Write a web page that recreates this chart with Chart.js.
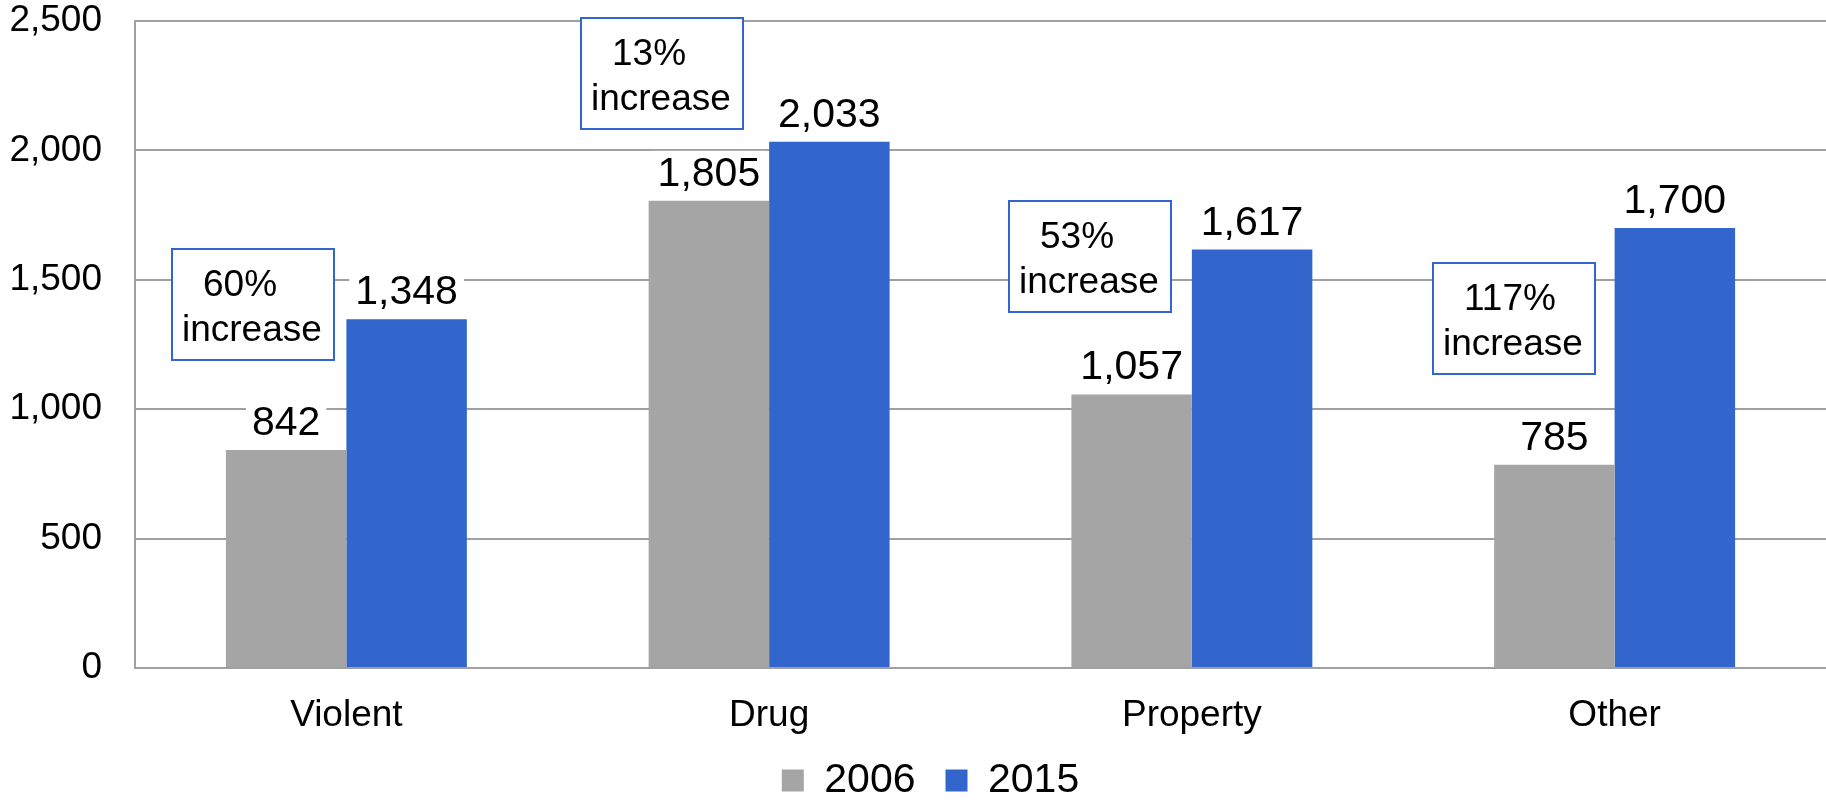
<!DOCTYPE html>
<html>
<head>
<meta charset="utf-8">
<script src="https://cdn.jsdelivr.net/npm/chart.js@4"></script>
<style>
  html, body { margin: 0; padding: 0; background: #fff; }
  #wrap { width: 1826px; height: 800px; position: relative; }
</style>
</head>
<body>
<div id="wrap"><canvas id="chart"></canvas></div>
<script>
const categories = ['Violent', 'Drug', 'Property', 'Other'];
const seriesNames = ['2006', '2015'];
const values2006 = [842, 1805, 1057, 785];
const values2015 = [1348, 2033, 1617, 1700];
const increaseLabels = ['60%', '13%', '53%', '117%'];
const increaseWord = 'increase';

const gray = '#A5A5A5';
const blue = '#3366CC';
const gridGray = '#A0A0A0';
const fontFamily = '"Liberation Sans", Arial, sans-serif';

const fmt = v => v.toLocaleString('en-US');

// value labels above each bar, white backing hides the gridlines
const valueLabels = {
  id: 'valueLabels',
  afterDatasetsDraw(chart) {
    const { ctx } = chart;
    ctx.save();
    ctx.font = '41px ' + fontFamily;
    ctx.textAlign = 'center';
    ctx.textBaseline = 'alphabetic';
    chart.data.datasets.forEach((ds, di) => {
      chart.getDatasetMeta(di).data.forEach((bar, i) => {
        const text = fmt(ds.data[i]);
        const w = ctx.measureText(text).width;
        ctx.fillStyle = '#fff';
        ctx.fillRect(bar.x - w / 2 - 6, bar.y - 50, w + 12, 44);
        ctx.fillStyle = '#000';
        ctx.fillText(text, bar.x, bar.y - 15);
      });
    });
    ctx.restore();
  }
};

// "xx% increase" callout boxes
const increaseBoxes = {
  id: 'increaseBoxes',
  afterDatasetsDraw(chart, args, opts) {
    const { ctx, scales: { x, y } } = chart;
    ctx.save();
    ctx.font = '37px ' + fontFamily;
    ctx.textAlign = 'left';
    ctx.textBaseline = 'alphabetic';
    opts.boxes.forEach((b, i) => {
      const left = Math.round(x.getPixelForValue(i) + b.dx);
      const top = Math.round(y.getPixelForValue(b.top));
      ctx.fillStyle = '#fff';
      ctx.fillRect(left, top, opts.width, opts.height);
      ctx.strokeStyle = blue;
      ctx.lineWidth = 2;
      ctx.strokeRect(left, top, opts.width, opts.height);
      ctx.fillStyle = '#000';
      ctx.fillText(increaseLabels[i], left + 31, top + 47);
      ctx.fillText(increaseWord, left + 10, top + 92);
    });
    ctx.restore();
  }
};

// nudge the legend row a bit to the right, like the original
const legendShift = {
  id: 'legendShift',
  beforeInit(chart) {
    if (!chart.legend) return;
    const fit = chart.legend.fit;
    chart.legend.fit = function () {
      fit.call(this);
      if (this.lineWidths && this.lineWidths.length) this.lineWidths[0] -= 35;
    };
  }
};

const ctx = document.getElementById('chart');

new Chart(ctx, {
  type: 'bar',
  data: {
    labels: categories,
    datasets: [
      { label: seriesNames[0], data: values2006, backgroundColor: gray },
      { label: seriesNames[1], data: values2015, backgroundColor: blue }
    ]
  },
  options: {
    responsive: true,
    maintainAspectRatio: false,
    animation: false,
    datasets: {
      bar: { categoryPercentage: 0.57, barPercentage: 1.0 }
    },
    layout: { padding: { top: 0, left: 0, right: 0, bottom: -11 } },
    plugins: {
      tooltip: { enabled: false },
      legend: {
        position: 'bottom',
        labels: {
          boxWidth: 22,
          boxHeight: 22,
          padding: 30,
          color: '#000',
          font: { family: fontFamily, size: 41 }
        }
      },
      increaseBoxes: {
        width: 162,
        height: 111,
        boxes: [
          { dx: -174, top: 1620 },
          { dx: -188, top: 2510 },
          { dx: -183, top: 1806 },
          { dx: -182, top: 1565 }
        ]
      }
    },
    scales: {
      x: {
        grid: { display: false, drawTicks: false },
        border: { color: gridGray, width: 2 },
        ticks: {
          padding: 32,
          color: '#000',
          font: { family: fontFamily, size: 37, lineHeight: 0.87 }
        },
        afterFit(scale) {
          scale.height = 62;
          scale.paddingLeft = 0;
          scale.paddingRight = 0;
          // labels sit lower than the fixed axis box, so don't clip them
          scale._computeLabelArea = () => undefined;
        }
      },
      y: {
        min: 0,
        max: 2500,
        grid: { color: gridGray, lineWidth: 2, drawTicks: false },
        border: { color: gridGray, width: 2 },
        ticks: {
          stepSize: 500,
          padding: 33,
          color: '#000',
          font: { family: fontFamily, size: 37 },
          callback: v => fmt(v)
        },
        afterFit(scale) {
          scale.width = 135;
          scale.paddingTop = 21;
          scale.paddingBottom = 0;
        }
      }
    }
  },
  plugins: [valueLabels, increaseBoxes, legendShift]
});
</script>
</body>
</html>
